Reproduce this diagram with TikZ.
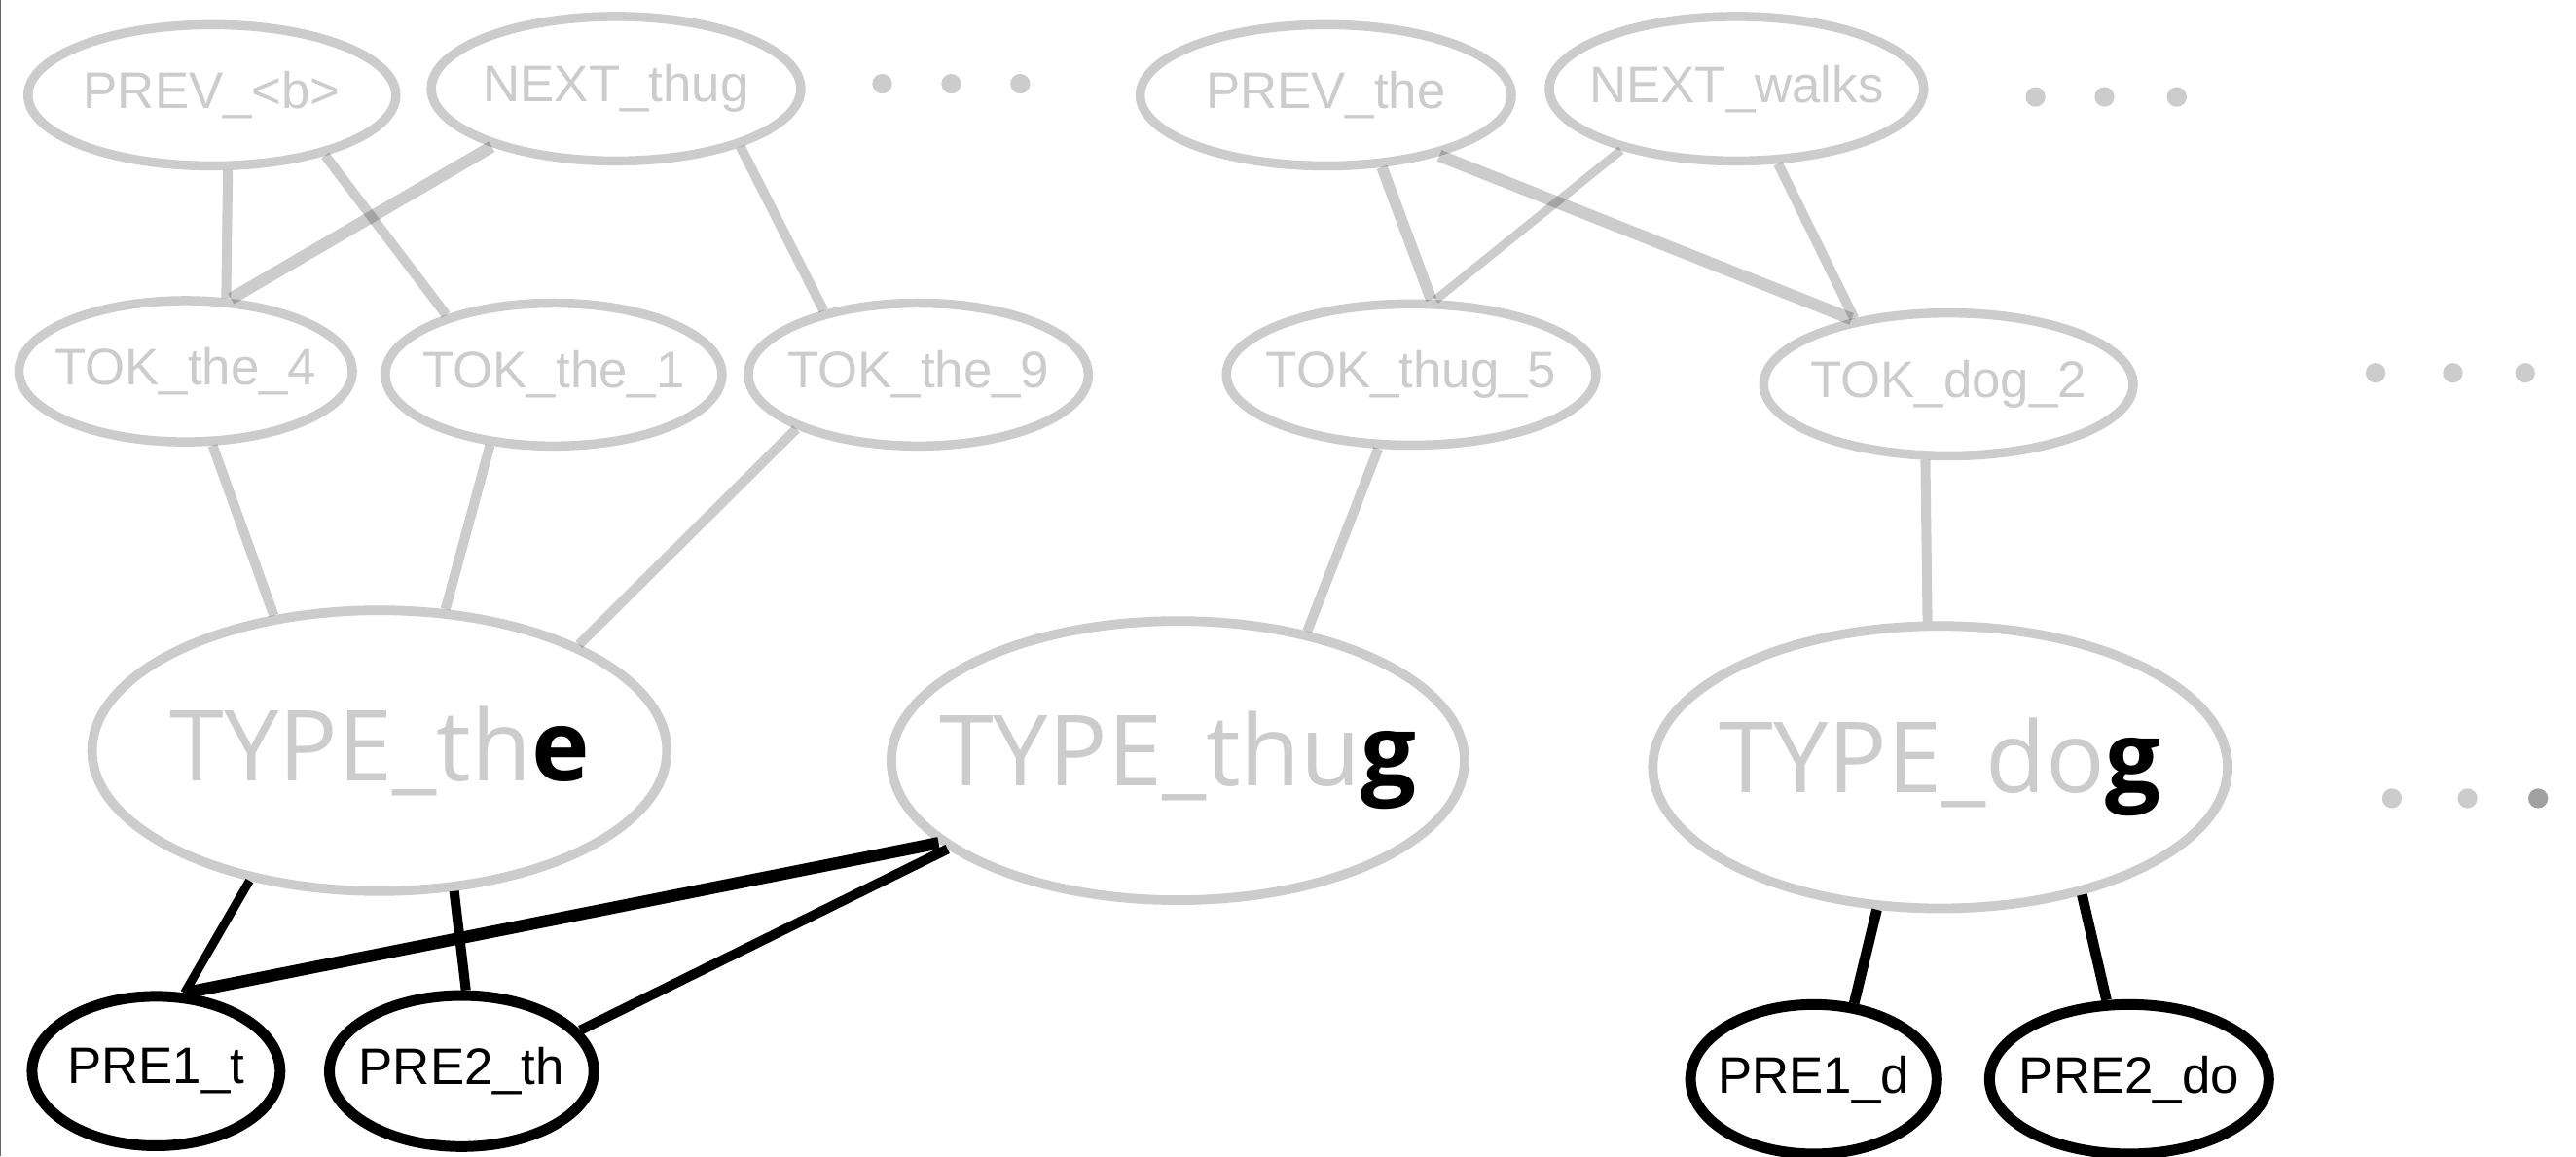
\documentclass[tikz,border=0pt]{standalone}
\usepackage{fontspec}
\usetikzlibrary{shapes.geometric}
\newfontfamily\labfont{Liberation Sans}
\newfontfamily\typfont{Open Sans}
\definecolor{lg}{RGB}{204,204,204}
\definecolor{dg}{RGB}{160,160,160}
\newcommand\zw[1]{\hbox to 0pt{\hss#1\hss}}
\begin{document}
\begin{tikzpicture}[x=0.02cm,y=-0.02cm,
 ell/.style={ellipse, inner sep=0pt, line width=3.2pt, draw=lg, text=lg, font=\labfont\fontsize{17.8}{20}\selectfont},
 typ/.style={ellipse, inner sep=0pt, line width=3.3pt, draw=lg, text=lg, font=\typfont\fontsize{34}{40}\selectfont},
 pre/.style={ellipse, inner sep=0pt, line width=3.7pt, draw=black, text=black, font=\labfont\fontsize{17.8}{20}\selectfont},
 ge/.style={draw=black, draw opacity=0.2, line width=3.4pt},
 be/.style={draw=black, line width=3.4pt},
 dot/.style={circle, fill=lg, inner sep=0pt, minimum size=0.24cm}
]
\useasboundingbox (0,0) rectangle (1568,704);
\fill[white] (0,0) rectangle (1568,704);
\draw[black!60, line width=0.5pt] (0.4,0) -- (0.4,704);

% top row
\node[ell, minimum width=4.48cm, minimum height=1.72cm] (pb) at (129,58) {\zw{PREV\_<b>}};
\node[ell, minimum width=4.50cm, minimum height=1.76cm] (nt) at (375,54) {\zw{NEXT\_thug}};
\node[ell, minimum width=4.52cm, minimum height=1.72cm] (pt) at (807,58) {\zw{PREV\_the}};
\node[ell, minimum width=4.56cm, minimum height=1.76cm] (nw) at (1057,54) {\zw{NEXT\_walks}};
\node[dot] (da1) at (537,51) {};
\node[dot] (da2) at (579,51) {};
\node[dot] (da3) at (621,51) {};
\node[dot] (db1) at (1239,59) {};
\node[dot] (db2) at (1281,59) {};
\node[dot] (db3) at (1325,59) {};

% token row
\node[ell, minimum width=4.06cm, minimum height=1.72cm] (t4) at (113,226) {\zw{TOK\_the\_4}};
\node[ell, minimum width=4.10cm, minimum height=1.74cm] (t1) at (337,228) {\zw{TOK\_the\_1}};
\node[ell, minimum width=4.14cm, minimum height=1.74cm] (t9) at (559,228) {\zw{TOK\_the\_9}};
\node[ell, minimum width=4.50cm, minimum height=1.72cm] (t5) at (859,228) {\zw{TOK\_thug\_5}};
\node[ell, minimum width=4.50cm, minimum height=1.74cm] (d2) at (1186,234) {\zw{TOK\_dog\_2}};
\node[dot] (dc1) at (1446,227) {};
\node[dot] (dc2) at (1493,227) {};
\node[dot] (dc3) at (1537,227) {};

% type row
\node[typ, minimum width=7.00cm, minimum height=3.42cm] (tt) at (231,457) {\zw{TYPE\_th{\color{black}\bfseries e}}};
\node[typ, minimum width=6.98cm, minimum height=3.40cm] (tg) at (717,463) {\zw{TYPE\_thu{\color{black}\bfseries g}}};
\node[typ, minimum width=7.00cm, minimum height=3.44cm] (td) at (1181,467) {\zw{TYPE\_do{\color{black}\bfseries g}}};
\node[dot] (dd1) at (1456,486) {};
\node[dot] (dd2) at (1502,486) {};
\node[dot, fill=dg] (dd3) at (1545,486) {};

% prefix row
\node[pre, minimum width=3.02cm, minimum height=1.82cm] (p1t) at (95,652) {\zw{PRE1\_t}};
\node[pre, minimum width=3.22cm, minimum height=1.84cm] (p2t) at (281,652) {\zw{PRE2\_th}};
\node[pre, minimum width=3.00cm, minimum height=1.82cm] (p1d) at (1104,657) {\zw{PRE1\_d}};
\node[pre, minimum width=3.40cm, minimum height=1.82cm] (p2d) at (1296,657) {\zw{PRE2\_do}};

% gray connectors
\draw[ge] (pb.-78) -- (t4.61);
\draw[ge] (pb.-28) -- (t1.151);
\draw[ge, line width=4.2pt] (nt.-155) -- (t4.58);
\draw[ge] (nt.-25) -- (t9.146);
\draw[ge, line width=3.9pt] (pt.-52) -- (t5.75);
\draw[ge, line width=4.2pt] (pt.-28) -- (d2.146);
\draw[ge, line width=3pt] (nw.-152) -- (t5.72);
\draw[ge] (nw.-61) -- (d2.145);
\draw[ge] (t4.-70) -- (tt.128);
\draw[ge] (t1.-132) -- (tt.65);
\draw[ge] (t9.-156) -- (tt.28);
\draw[ge] (t5.-114) -- (tg.45);
\draw[ge] (d2.-107) -- (td.95);

% black connectors
\draw[be, line width=3pt] (tt.-135) -- (p1t.70);
\draw[be] (tt.-62) -- (p2t.87);
\draw[be, line width=4.2pt] (tg.-161) -- (p1t.70);
\draw[be] (tg.-159) -- (p2t.19);
\draw[be, line width=3.6pt] (td.-114) -- (p1d.62);
\draw[be, line width=3.6pt] (td.-42) -- (p2d.106);
\end{tikzpicture}
\end{document}
